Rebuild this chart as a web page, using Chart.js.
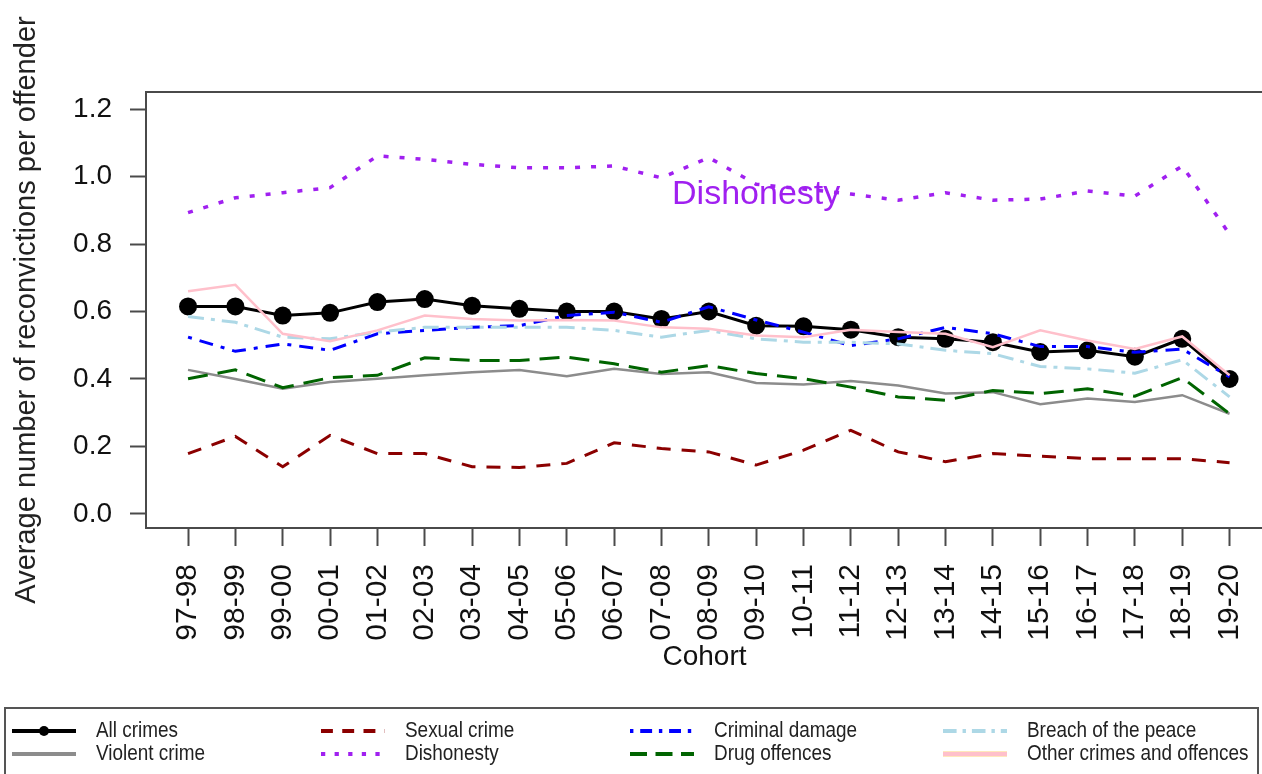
<!DOCTYPE html>
<html>
<head>
<meta charset="utf-8">
<script src="https://cdn.jsdelivr.net/npm/chart.js@4.4.0/dist/chart.umd.min.js"></script>
<style>
  body { margin: 0; background: #fff; overflow: hidden; }
  canvas { display: block; }
</style>
</head>
<body>
<canvas id="reconv" width="1272" height="774"></canvas>
<script>
const cohorts = ["97-98", "98-99", "99-00", "00-01", "01-02", "02-03", "03-04", "04-05",
  "05-06", "06-07", "07-08", "08-09", "09-10", "10-11", "11-12", "12-13", "13-14",
  "14-15", "15-16", "16-17", "17-18", "18-19", "19-20"];
const yTicks = [0, 0.2, 0.4, 0.6, 0.8, 1.0, 1.2];

const allCrimes = [0.615, 0.615, 0.588, 0.596, 0.628, 0.637, 0.617, 0.608, 0.600, 0.600, 0.578, 0.600,
  0.558, 0.556, 0.546, 0.524, 0.519, 0.509, 0.480, 0.485, 0.466, 0.519, 0.400];
const violentCrime = [0.427, 0.400, 0.371, 0.391, 0.401, 0.411, 0.420, 0.427, 0.408, 0.430, 0.415, 0.420,
  0.388, 0.384, 0.394, 0.381, 0.357, 0.361, 0.325, 0.342, 0.332, 0.352, 0.297];
const sexualCrime = [0.179, 0.230, 0.140, 0.233, 0.179, 0.179, 0.140, 0.138, 0.150, 0.211, 0.194, 0.184,
  0.145, 0.189, 0.248, 0.184, 0.155, 0.179, 0.171, 0.164, 0.164, 0.164, 0.152];
const dishonesty = [0.893, 0.937, 0.952, 0.967, 1.061, 1.051, 1.036, 1.026, 1.026, 1.031, 0.996, 1.056,
  0.977, 0.963, 0.948, 0.930, 0.952, 0.930, 0.933, 0.957, 0.942, 1.031, 0.829];
const criminalDamage = [0.524, 0.482, 0.504, 0.485, 0.534, 0.544, 0.553, 0.558, 0.588, 0.598, 0.568, 0.614,
  0.575, 0.539, 0.499, 0.519, 0.553, 0.534, 0.496, 0.496, 0.479, 0.489, 0.406];
const drugOffences = [0.401, 0.427, 0.374, 0.404, 0.411, 0.463, 0.455, 0.455, 0.465, 0.445, 0.420, 0.440,
  0.416, 0.401, 0.376, 0.347, 0.337, 0.366, 0.357, 0.371, 0.349, 0.404, 0.297];
const breachOfPeace = [0.585, 0.568, 0.524, 0.519, 0.539, 0.553, 0.553, 0.553, 0.553, 0.544, 0.524, 0.544,
  0.519, 0.509, 0.509, 0.504, 0.485, 0.475, 0.437, 0.430, 0.417, 0.457, 0.347];
const otherCrimes = [0.660, 0.679, 0.534, 0.512, 0.544, 0.588, 0.578, 0.573, 0.575, 0.573, 0.553, 0.549,
  0.529, 0.524, 0.546, 0.539, 0.534, 0.494, 0.544, 0.514, 0.489, 0.526, 0.411];

const font = "'Liberation Sans', Arial, sans-serif";
const axisColor = "#4a4a4a";

// legend order (column-major, like the original)
const series = [
  { label: "All crimes", data: allCrimes, color: "#000000", width: 3, dash: [], points: 9 },
  { label: "Violent crime", data: violentCrime, color: "#8c8c8c", width: 2.5, dash: [] },
  { label: "Sexual crime", data: sexualCrime, color: "#8b0000", width: 3, dash: [14, 11] },
  { label: "Dishonesty", data: dishonesty, color: "#a020f0", width: 3.5, dash: [5, 11] },
  { label: "Criminal damage", data: criminalDamage, color: "#0000ff", width: 3, dash: [4, 8, 14, 8] },
  { label: "Drug offences", data: drugOffences, color: "#006400", width: 3, dash: [20, 10] },
  { label: "Breach of the peace", data: breachOfPeace, color: "#add8e6", width: 3, dash: [16, 7, 4, 7] },
  { label: "Other crimes and offences", data: otherCrimes, color: "#ffc0cb", width: 2.5, dash: [] }
];

const frameAndLabel = {
  id: "frameAndLabel",
  afterDatasetsDraw(chart) {
    const { ctx, chartArea, scales } = chart;
    ctx.save();
    // top edge of the box
    ctx.strokeStyle = axisColor;
    ctx.lineWidth = 2;
    ctx.beginPath();
    ctx.moveTo(chartArea.left - 1, chartArea.top);
    ctx.lineTo(chartArea.right, chartArea.top);
    ctx.stroke();
    // in-plot label
    ctx.fillStyle = "#a020f0";
    ctx.font = "34px " + font;
    ctx.textAlign = "center";
    ctx.textBaseline = "alphabetic";
    ctx.fillText("Dishonesty", scales.x.getPixelForValue(cohorts.indexOf("09-10")), scales.y.getPixelForValue(0.92));
    ctx.restore();
  }
};

const bottomLegend = {
  id: "bottomLegend",
  afterDraw(chart) {
    const ctx = chart.ctx;
    const colX = [12, 321, 630, 943];
    const rowY = [731, 754];
    const lineLen = 64;
    ctx.save();
    ctx.strokeStyle = "#555";
    ctx.lineWidth = 2;
    ctx.strokeRect(5, 708, 1253, 90);
    series.forEach((s, i) => {
      const x = colX[Math.floor(i / 2)];
      const y = rowY[i % 2];
      ctx.setLineDash(s.dash.map(d => d * 0.85));
      ctx.lineCap = "butt";
      if (s.label === "Other crimes and offences") {
        ctx.strokeStyle = "#ffd27a";
        ctx.lineWidth = 5;
        ctx.beginPath(); ctx.moveTo(x, y); ctx.lineTo(x + lineLen, y); ctx.stroke();
      }
      ctx.strokeStyle = s.color;
      ctx.lineWidth = 4;
      ctx.beginPath(); ctx.moveTo(x, y); ctx.lineTo(x + lineLen, y); ctx.stroke();
      ctx.setLineDash([]);
      if (s.points) {
        ctx.fillStyle = s.color;
        ctx.beginPath(); ctx.arc(x + lineLen / 2, y, 5, 0, Math.PI * 2); ctx.fill();
      }
      ctx.fillStyle = "#222";
      ctx.font = "22px " + font;
      ctx.textAlign = "left";
      ctx.textBaseline = "middle";
      ctx.translate(x + 84, y);
      ctx.scale(0.86, 1);
      ctx.fillText(s.label, 0, 0);
      ctx.setTransform(1, 0, 0, 1, 0, 0);
    });
    ctx.restore();
  }
};

new Chart(document.getElementById("reconv"), {
  type: "line",
  data: {
    datasets: series.map((s, i) => ({
      label: s.label,
      data: s.data.map((v, k) => ({ x: k, y: v })),
      borderColor: s.color,
      backgroundColor: s.color,
      borderWidth: s.width,
      borderDash: s.dash,
      borderCapStyle: "butt",
      tension: 0,
      pointRadius: s.points || 0,
      pointBorderWidth: 0,
      fill: false,
      order: series.length - i
    }))
  },
  options: {
    responsive: false,
    animation: false,
    events: [],
    layout: { padding: { top: 92, right: 0, bottom: 96, left: 0 } },
    plugins: { legend: { display: false }, tooltip: { enabled: false } },
    scales: {
      x: {
        type: "linear",
        min: -0.888,
        max: 22.706,
        afterBuildTicks: s => { s.ticks = cohorts.map((c, i) => ({ value: i })); },
        afterFit: s => { s.height = 150; s.paddingLeft = 0; s.paddingRight = 0; },
        ticks: {
          autoSkip: false,
          minRotation: 90,
          maxRotation: 90,
          padding: 18,
          color: "#111",
          font: { family: font, size: 30 },
          callback: v => cohorts[v]
        },
        grid: { drawOnChartArea: false, tickLength: 18, tickWidth: 2, tickColor: axisColor },
        border: { display: true, color: axisColor, width: 2 },
        title: { display: true, text: "Cohort", color: "#111", font: { family: font, size: 28 }, padding: { top: 0, bottom: 4 } }
      },
      y: {
        min: -0.0415,
        max: 1.2504,
        afterBuildTicks: s => { s.ticks = yTicks.map(v => ({ value: v })); },
        afterFit: s => { s.width = 146; s.paddingTop = 0; s.paddingBottom = 0; },
        ticks: {
          padding: 18,
          color: "#111",
          font: { family: font, size: 28 },
          callback: v => v.toFixed(1)
        },
        grid: { drawOnChartArea: false, tickLength: 16, tickWidth: 2, tickColor: axisColor },
        border: { display: true, color: axisColor, width: 2 },
        title: {
          display: true,
          text: "Average number of reconvictions per offender",
          color: "#222",
          font: { family: font, size: 29 },
          padding: { top: 10, bottom: 0 }
        }
      }
    }
  },
  plugins: [frameAndLabel, bottomLegend]
});
</script>
</body>
</html>
